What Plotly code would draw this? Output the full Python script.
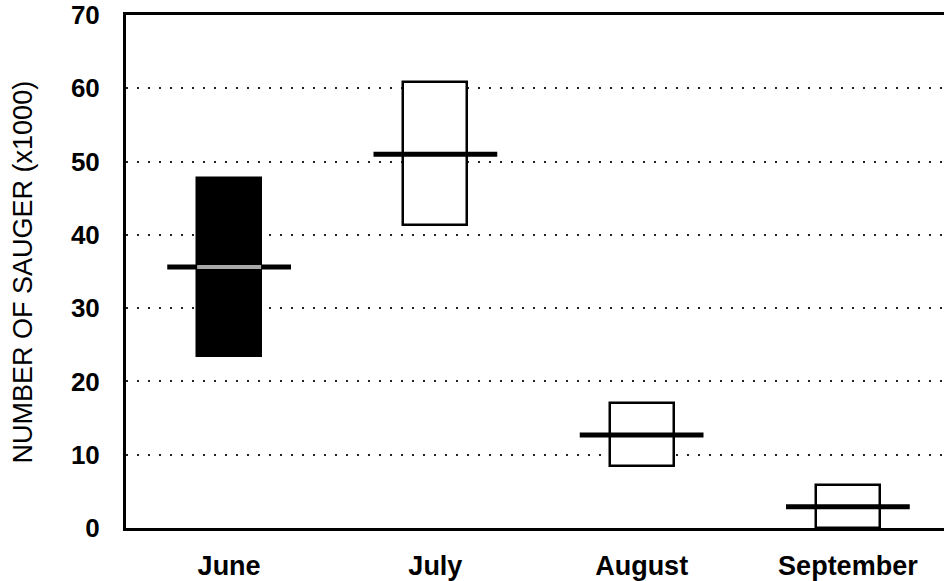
import plotly.graph_objects as go

months = ["June", "July", "August", "September"]
low = [23.5, 41.4, 8.4, 0.0]
high = [47.8, 60.8, 17.1, 5.8]
median = [35.6, 51.0, 12.7, 2.9]
y_ticks = [0, 10, 20, 30, 40, 50, 60, 70]

# styles
fills = ["black", "white", "white", "white"]
box_w = 0.31
med_w = 0.60
pos = list(range(len(months)))

fig = go.Figure()
fig.add_trace(go.Bar(
    x=pos, y=[h - l for h, l in zip(high, low)], base=low, width=box_w,
    marker=dict(color=fills, line=dict(color="black", width=2.5)),
    hoverinfo="skip", showlegend=False,
))
for i, m in enumerate(median):
    fig.add_trace(go.Scatter(
        x=[i - med_w / 2, i + med_w / 2], y=[m, m], mode="lines",
        line=dict(color="black", width=5), showlegend=False, hoverinfo="skip",
    ))
    if fills[i] == "black":
        fig.add_trace(go.Scatter(
            x=[i - box_w / 2, i + box_w / 2], y=[m, m], mode="lines",
            line=dict(color="#a8a8a8", width=4), showlegend=False, hoverinfo="skip",
        ))

font_fam = "Liberation Sans, Arial, sans-serif"
fig.update_layout(
    width=944, height=581,
    margin=dict(l=126, r=0, t=13, b=52),
    paper_bgcolor="white", plot_bgcolor="white",
    bargap=0,
    xaxis=dict(
        range=[-0.5, 3.466], tickvals=pos, ticktext=months,
        showgrid=False, zeroline=False, showline=True, mirror=True,
        linecolor="black", linewidth=3, ticks="",
        tickfont=dict(family=font_fam, size=27, color="black", weight="bold"),
        ticklabelstandoff=12,
    ),
    yaxis=dict(
        range=[0, 70], tickvals=y_ticks, ticktext=[str(v) for v in y_ticks],
        showgrid=True, gridcolor="#222", gridwidth=2, griddash="2px,9px",
        zeroline=False, showline=True, linecolor="black", linewidth=3, ticks="",
        tickfont=dict(family=font_fam, size=26, color="black", weight="bold"),
        ticklabelstandoff=18, ticklabeloverflow="allow",
    ),
    annotations=[dict(
        text="NUMBER OF SAUGER (x1000)", xref="paper", yref="paper",
        x=-0.126, y=0.5, xanchor="center", yanchor="middle", textangle=-90,
        showarrow=False, font=dict(family=font_fam, size=27, color="black"),
    )],
)
fig.write_html("out.html")
